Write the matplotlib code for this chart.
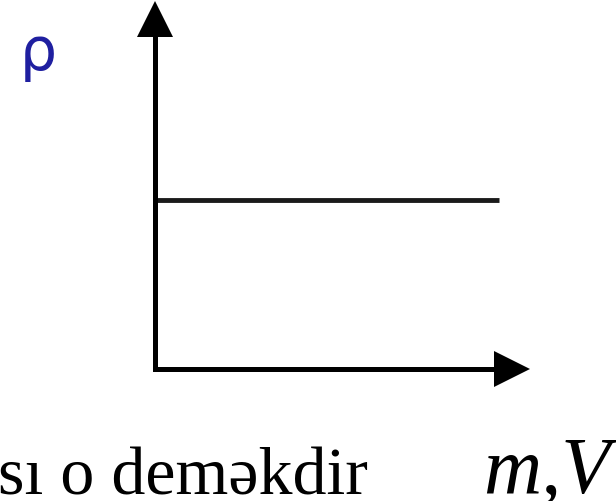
import matplotlib.pyplot as plt

# constant density vs mass/volume
mv_values = [0.0, 9.64]
rho_values = [4.83, 4.83]

W, H = 616, 502
fig = plt.figure(figsize=(W / 100, H / 100), dpi=100)

# axes box in pixels: left 155, right 512, bottom 370, top 20
ax = fig.add_axes([155 / W, 1 - 370 / H, (512 - 155) / W, (370 - 20) / H])
ax.set_xlim(0, 10)
ax.set_ylim(0, 10)
ax.plot(mv_values, rho_values, color='#1a1a1a', lw=3.5, solid_capstyle='butt')

for s in ['top', 'right']:
    ax.spines[s].set_visible(False)
for s in ['left', 'bottom']:
    ax.spines[s].set_linewidth(3.6)
    ax.spines[s].set_color('black')
ax.set_xticks([])
ax.set_yticks([])

# arrow heads
ax.plot([0], [10], marker='^', ms=26, color='black', clip_on=False, mew=0)
ax.plot([10], [0], marker='>', ms=26, color='black', clip_on=False, mew=0)

def px(x, y):
    return x / W, 1 - y / H

fig.text(*px(20, 70), 'ρ', fontsize=42, color='#1f1fa0', family='DejaVu Sans',
         ha='left', va='baseline')
fig.text(*px(368, 495), 'ması o deməkdir', fontsize=49, family='Liberation Serif',
         ha='right', va='baseline')
fig.text(*px(483, 492), 'm,V', fontsize=58, family='Liberation Serif',
         style='italic', ha='left', va='baseline')

fig.savefig('out.png', dpi=100)
